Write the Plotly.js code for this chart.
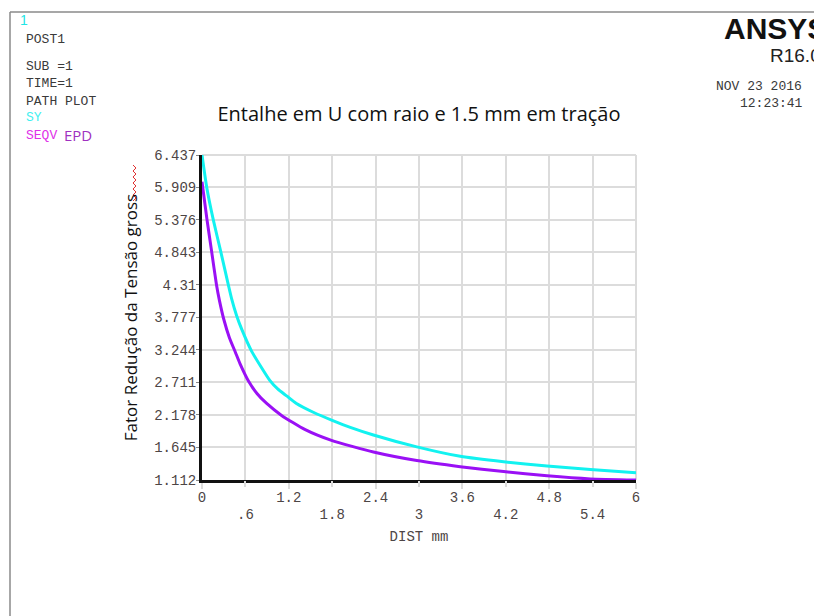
<!DOCTYPE html>
<html>
<head>
<meta charset="utf-8">
<script src="https://cdn.plot.ly/plotly-3.0.1.min.js"></script>
<style>html,body{margin:0;padding:0;background:#fff;}#chart{width:814px;height:616px;}</style>
</head>
<body>
<div id="chart"></div>
<script>
// ---- data ----
const distSY = [0, 0.065, 0.157, 0.26, 0.364, 0.41, 0.48, 0.55, 0.687, 0.94, 1.05, 1.17, 1.3, 1.56, 1.8, 2.05, 2.37, 2.97, 3.57, 4.17, 4.77, 5.37, 6.0];
const valSY  = [6.437, 5.91, 5.37, 4.85, 4.31, 4.08, 3.80, 3.58, 3.22, 2.74, 2.60, 2.49, 2.37, 2.21, 2.09, 1.975, 1.85, 1.655, 1.50, 1.41, 1.34, 1.285, 1.23];
const distSEQV = [0, 0.01, 0.07, 0.134, 0.20, 0.24, 0.30, 0.38, 0.46, 0.525, 0.64, 0.76, 0.89, 1.10, 1.42, 1.79, 2.37, 2.97, 3.57, 4.17, 4.77, 5.37, 6.0];
const valSEQV  = [6.00, 5.91, 5.37, 4.85, 4.31, 4.06, 3.75, 3.44, 3.21, 3.02, 2.74, 2.53, 2.37, 2.17, 1.94, 1.76, 1.57, 1.43, 1.33, 1.25, 1.18, 1.13, 1.112];
const yTickLabels = ['1.112', '1.645', '2.178', '2.711', '3.244', '3.777', '4.31', '4.843', '5.376', '5.909', '6.437'];
const xTickLabelsTop = ['0', '1.2', '2.4', '3.6', '4.8', '6'];
const xTickLabelsBottom = ['.6', '1.8', '3', '4.2', '5.4'];
const seriesNames = ['SY', 'SEQV'];

// ---- layout helpers (pixel -> paper) ----
const L = 202, R = 636, T = 155, B = 480, W = 814, H = 616;
const px = v => (v - L) / (R - L);
const py = v => (B - v) / (B - T);

const mono = 'Liberation Mono, DejaVu Sans Mono, monospace';
const sans = 'Open Sans, Noto Sans, sans-serif';
const tickFont = {family: mono, size: 14, color: '#4d4545'};

const traces = [
  {x: distSY, y: valSY, name: seriesNames[0], mode: 'lines', line: {color: '#12f2f0', width: 3, shape: 'spline', smoothing: 0.5}},
  {x: distSEQV, y: valSEQV, name: seriesNames[1], mode: 'lines', line: {color: '#9a10f5', width: 3, shape: 'spline', smoothing: 0.5}},
  {x: [], y: [], xaxis: 'x2', yaxis: 'y', showlegend: false}
];

function ann(text, x, y, opts) {
  return Object.assign({text: text, xref: 'paper', yref: 'paper', x: px(x), y: py(y),
    xanchor: 'left', yanchor: 'middle', showarrow: false,
    font: {family: mono, size: 13, color: '#3a3a3a'}}, opts || {});
}

// red spell-check squiggle beside "gross"
let sq = '';
for (let i = 0; i <= 12; i++) {
  const yy = 165 + i * 3;
  const xx = (i % 2 === 0) ? 133 : 136;
  sq += (i === 0 ? 'M ' : ' L ') + px(xx).toFixed(4) + ',' + py(yy).toFixed(4);
}

const layout = {
  width: W, height: H,
  margin: {l: L, r: W - R, t: T, b: H - B, pad: 0},
  paper_bgcolor: '#fff', plot_bgcolor: '#fff',
  showlegend: false,
  title: {text: 'Entalhe em U com raio e 1.5 mm em tração', xref: 'paper', x: 0.5, xanchor: 'center',
          yref: 'container', y: 1 - 114 / H, yanchor: 'middle',
          font: {family: sans, size: 20, color: '#111'}},
  xaxis: {
    range: [0, 6], tickvals: xTickLabelsTop.map(Number), ticktext: xTickLabelsTop,
    showgrid: true, gridcolor: '#dcdcdc', gridwidth: 2,
    showline: true, linecolor: '#111', linewidth: 3, zeroline: false,
    ticks: 'outside', ticklen: 6, tickcolor: '#dcdcdc', tickwidth: 2,
    tickfont: tickFont, ticklabelstandoff: -4,
    title: {text: 'DIST mm', font: {family: mono, size: 14, color: '#4d4545'}, standoff: 27}
  },
  xaxis2: {
    overlaying: 'x', anchor: 'y', side: 'bottom', range: [0, 6],
    tickvals: xTickLabelsBottom.map(Number), ticktext: xTickLabelsBottom,
    showgrid: true, gridcolor: '#dcdcdc', gridwidth: 2, showline: false, zeroline: false,
    ticks: 'outside', ticklen: 6, tickcolor: '#dcdcdc', tickwidth: 2,
    tickfont: tickFont, ticklabelstandoff: 15
  },
  yaxis: {
    range: [1.112, 6.437], tickvals: yTickLabels.map(Number), ticktext: yTickLabels,
    showgrid: true, gridcolor: '#dcdcdc', gridwidth: 2,
    showline: true, linecolor: '#111', linewidth: 3, zeroline: false,
    ticks: 'outside', ticklen: 3, tickcolor: '#888', tickwidth: 1,
    tickfont: tickFont, ticklabelstandoff: -3,
    title: {text: 'Fator Redução da Tensão gross', font: {family: sans, size: 17, color: '#111'}, standoff: 13}
  },
  shapes: [
    {type: 'line', xref: 'paper', yref: 'paper', x0: px(10), x1: px(10), y0: py(12), y1: py(H + 5), line: {color: '#8a8a8a', width: 1.5}},
    {type: 'line', xref: 'paper', yref: 'paper', x0: px(10), x1: px(W + 5), y0: py(12), y1: py(12), line: {color: '#8a8a8a', width: 1.5}},
    {type: 'line', xref: 'paper', yref: 'paper', x0: 1, x1: 1, y0: 0, y1: 1, line: {color: '#dcdcdc', width: 2}, layer: 'below'},
    {type: 'line', xref: 'paper', yref: 'paper', x0: 0, x1: 1, y0: 1, y1: 1, line: {color: '#dcdcdc', width: 2}, layer: 'below'},
    {type: 'path', xref: 'paper', yref: 'paper', path: sq, line: {color: '#e03030', width: 1}}
  ],
  annotations: [
    ann('1', 18, 20, {font: {family: 'Liberation Sans, sans-serif', size: 14, color: '#22e5e5'}}),
    ann('POST1', 24, 40),
    ann('SUB =1', 24, 66),
    ann('TIME=1', 24, 84),
    ann('PATH PLOT', 24, 101),
    ann('SY', 24, 118, {font: {family: mono, size: 13, color: '#3ff0f0'}}),
    ann('SEQV', 24, 135, {font: {family: mono, size: 13, color: '#e030e8'}}),
    ann('EPD', 62, 135, {font: {family: sans, size: 15, color: '#a030c0'}}),
    ann('<b>ANSYS</b>', 722, 29, {font: {family: 'Liberation Sans, Arial, sans-serif', size: 30, color: '#111'}}),
    ann('R16.0', 768, 55, {font: {family: 'Liberation Sans, Arial, sans-serif', size: 19, color: '#222'}}),
    ann('NOV 23 2016', 714, 86, {font: {family: mono, size: 13, color: '#3a3a3a'}}),
    ann('12:23:41', 738, 103, {font: {family: mono, size: 13, color: '#3a3a3a'}})
  ]
};

Plotly.newPlot('chart', traces, layout, {displayModeBar: false, staticPlot: true});
</script>
</body>
</html>
